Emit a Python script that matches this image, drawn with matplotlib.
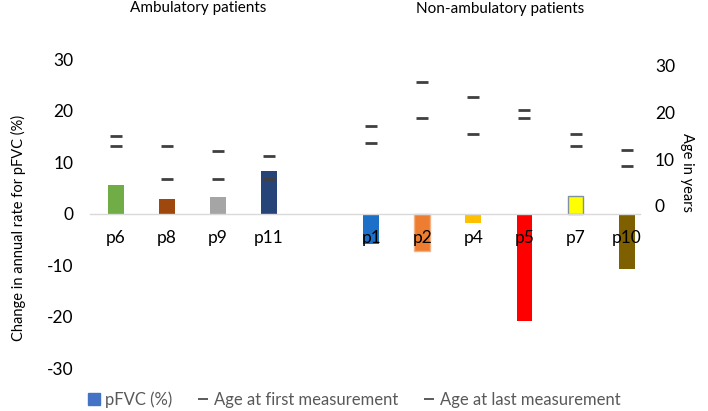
import numpy as np
import matplotlib
matplotlib.use("Agg")
import matplotlib.pyplot as plt
from matplotlib.lines import Line2D

plt.rcParams['font.family'] = ['Lato', 'DejaVu Sans']
plt.rcParams['axes.unicode_minus'] = False

# ---- data ----
patients = ["p6", "p8", "p9", "p11", "", "p1", "p2", "p4", "p5", "p7", "p10"]
pfvc = [5.5, 2.9, 3.2, 8.3, np.nan, -5.9, -7.2, -1.7, -20.8, 3.4, -10.7]
age_first = [12.8, 5.7, 5.7, 5.7, np.nan, 13.4, 18.8, 15.5, 18.8, 12.8, 8.6]
age_last = [15.0, 12.8, 11.7, 10.6, np.nan, 17.2, 26.5, 23.3, 20.5, 15.5, 12.0]
bar_colors = ["#70AD47", "#9E480E", "#A5A5A5", "#264478", "#FFFFFF",
              "#1E6FC8", "#ED7D31", "#FFC000", "#FF0000", "#FFFF00", "#7F6000"]
bar_edges = ["none", "none", "none", "none", "none",
             "none", "#F4B183", "none", "none", "#7F8FA6", "none"]
left_ticks = [-30, -20, -10, 0, 10, 20, 30]
right_ticks = [0, 10, 20, 30]
group_titles = ["Ambulatory patients", "Non-ambulatory patients"]

# ---- figure ----
fig = plt.figure(figsize=(7.08, 4.11), dpi=100)
ax = fig.add_axes([0.1274, 0.1039, 0.7938, 0.7518])
x = np.arange(len(patients))

ax.bar(x, pfvc, width=0.31, color=bar_colors, edgecolor=bar_edges, linewidth=1.0, zorder=1)
ax.set_xlim(-0.5, len(patients) - 0.5)
ax.set_ylim(-30, 30)
ax.set_yticks(left_ticks)
ax.set_xticks(x)
ax.set_xticklabels(patients)

for s in ["top", "right", "left"]:
    ax.spines[s].set_visible(False)
ax.spines["bottom"].set_position(("data", 0))
ax.spines["bottom"].set_color("#D9D9D9")
ax.spines["bottom"].set_linewidth(1.0)
ax.spines["bottom"].set_bounds(-0.5, 10.27)
ax.tick_params(axis="x", length=0, pad=12, labelsize=12.5, labelcolor="#000000")
ax.tick_params(axis="y", length=0, pad=12, labelsize=12.5, labelcolor="#000000")
ax.set_ylabel("Change in annual rate for pFVC (%)", fontsize=10.5, color="#000000")
ax.yaxis.set_label_coords(-0.115, 0.455)

ax2 = ax.twinx()
ax2.set_ylim(-34.8, 31.4)
ax2.set_yticks(right_ticks)
for s in ["top", "right", "left", "bottom"]:
    ax2.spines[s].set_visible(False)
ax2.tick_params(axis="y", length=0, pad=2, labelsize=12.5, labelcolor="#000000")
ax2.scatter(x, age_first, marker="_", s=70, color="#404040", linewidths=2, zorder=3)
ax2.scatter(x, age_last, marker="_", s=70, color="#404040", linewidths=2, zorder=3)
ax2.set_ylabel("Age in years", fontsize=10.5, rotation=270, color="#000000")
ax2.yaxis.set_label_coords(1.075, 0.635)

fig.text(198 / 708, 1 - 8 / 411, group_titles[0], ha="center", va="center", fontsize=11)
fig.text(500 / 708, 1 - 9 / 411, group_titles[1], ha="center", va="center", fontsize=11)

handles = [
    Line2D([], [], marker="s", linestyle="none", color="#4472C4", markersize=8),
    Line2D([], [], marker="_", linestyle="none", color="#404040", markersize=7, markeredgewidth=1.2),
    Line2D([], [], marker="_", linestyle="none", color="#404040", markersize=7, markeredgewidth=1.2),
]
leg = fig.legend(handles, ["pFVC (%)", "Age at first measurement", "Age at last measurement"],
                 loc="center", bbox_to_anchor=(0.5, 1 - 400 / 411), ncol=3, frameon=False,
                 fontsize=12, handlelength=0.8, handletextpad=0.3, columnspacing=1.4)
for t in leg.get_texts():
    t.set_color("#595959")

fig.savefig("out.png", dpi=100)
